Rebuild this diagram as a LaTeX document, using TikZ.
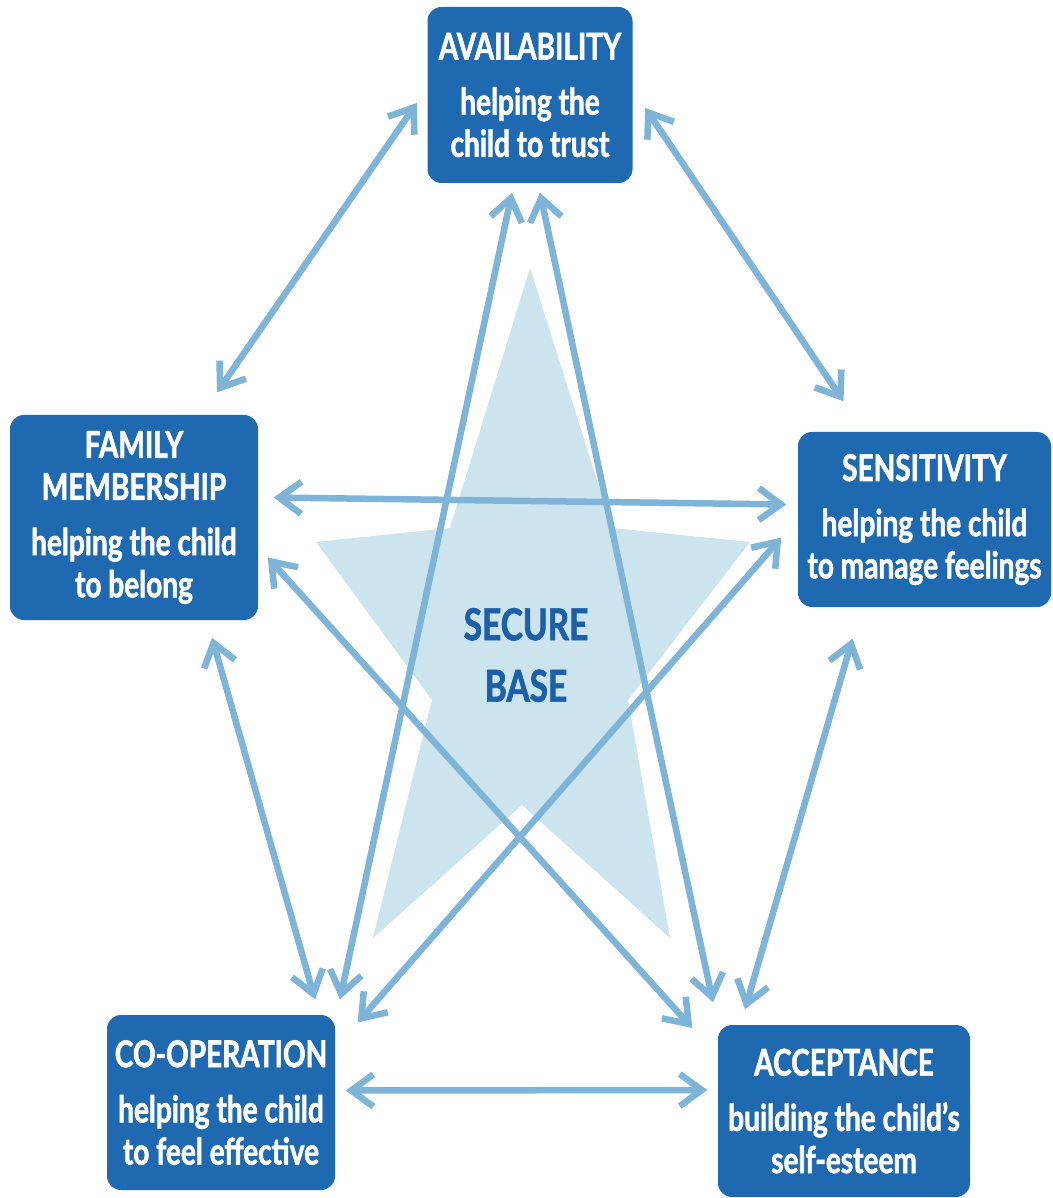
\documentclass[tikz,border=0pt]{standalone}
\usepackage{fontspec}
\setmainfont{Lato}[FakeStretch=0.76,BoldFeatures={FakeBold=1.6}]
\usetikzlibrary{calc,arrows.meta}
\tikzset{>={Straight Barb[length=2.2mm,width=3.2mm]}}
\definecolor{boxblue}{RGB}{30,105,175}
\definecolor{linkblue}{RGB}{125,180,215}
\definecolor{starblue}{RGB}{204,228,238}
\definecolor{basetext}{RGB}{30,95,170}

\begin{document}
\begin{tikzpicture}[x=0.1mm,y=-0.1mm,
    box/.style={fill=boxblue,rounded corners=1.4mm,text=white,inner sep=0pt,align=center,
      font=\bfseries\fontsize{10.5}{12}\selectfont},
    link/.style={<->,draw=linkblue,line width=0.65mm}]
    \useasboundingbox (0,0) rectangle (1052,1198);
    \fill[starblue] (530,268) -- (612,528) -- (750,542) -- (628,700) -- (670,938)
      -- (522,805) -- (373,938) -- (432,700) -- (316,542) -- (450,528) -- cycle;
    \node[text=basetext,align=center,font=\bfseries\fontsize{12.5}{17.5}\selectfont] (base) at (526,655) {SECURE\\BASE};
    \node[box,minimum width=20.5mm,minimum height=17.6mm] (avail) at (530,95)
      {AVAILABILITY\\[1.3mm] helping the\\child to trust};
    \node[box,minimum width=24.8mm,minimum height=20.5mm] (family) at (134,517.5)
      {FAMILY\\MEMBERSHIP\\[1.3mm] helping the child\\to belong};
    \node[box,minimum width=25.3mm,minimum height=17.5mm] (sens) at (924.5,519.5)
      {SENSITIVITY\\[1.3mm] helping the child\\to manage feelings};
    \node[box,minimum width=22.8mm,minimum height=17.5mm] (coop) at (221,1102.5)
      {CO-OPERATION\\[1.3mm] helping the child\\to feel effective};
    \node[box,minimum width=25.2mm,minimum height=17.2mm] (accept) at (844,1111)
      {ACCEPTANCE\\[1.3mm] building the child's\\self-esteem};
    \draw[link] ($(avail.west)+(-10,8)$) -- ($(family.north)+(83,-22)$);
    \draw[link] ($(avail.east)+(12,13)$) -- ($(sens.north)+(-81,-30)$);
    \draw[link] ($(family.east)+(15,-20)$) -- ($(sens.west)+(-11,-15)$);
    \draw[link] ($(family.south)+(78,17)$) -- ($(coop.north)+(94,-15)$);
    \draw[link] ($(sens.south)+(-72,31)$) -- ($(accept.north)+(-99,-15)$);
    \draw[link] ($(coop.east)+(10,-12)$) -- ($(accept.west)+(-10,-21)$);
    \draw[link] ($(avail.south)+(-18,9)$) -- ($(coop.north)+(119,-15)$);
    \draw[link] ($(avail.south)+(10,9)$) -- ($(accept.north)+(-131,-22)$);
    \draw[link] ($(family.east)+(9,40)$) -- ($(accept.west)+(-25,-83)$);
    \draw[link] ($(sens.west)+(-16,18)$) -- ($(coop.east)+(22,-80)$);
  \end{tikzpicture}
\end{document}
